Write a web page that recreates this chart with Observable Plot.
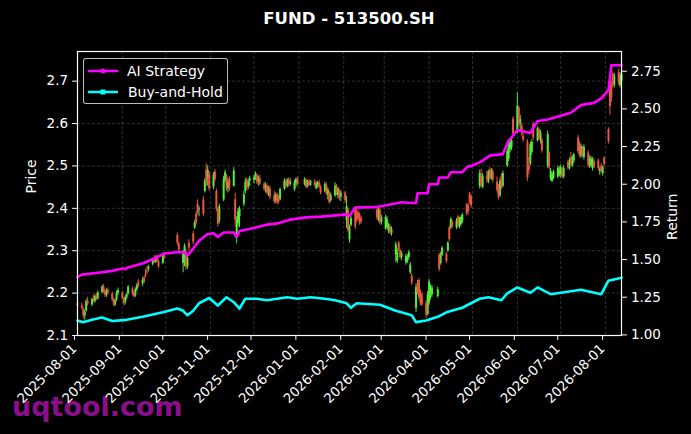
<!DOCTYPE html>
<html><head><meta charset="utf-8">
<script src="https://cdn.jsdelivr.net/npm/d3@7"></script>
<script src="https://cdn.jsdelivr.net/npm/@observablehq/plot@0.6"></script>
<style>
body{margin:0;background:#000;font-family:"DejaVu Sans",sans-serif;}
#wrap{position:relative;width:691px;height:434px;overflow:hidden;background:#000;}
#bg,#chart,#legend{position:absolute;left:0;top:0;}
#chart svg{display:block;}
#legend{left:83px;top:58px;width:145px;height:46px;box-sizing:border-box;border:1px solid rgba(210,210,210,0.9);border-radius:3px;background:rgba(0,0,0,0.85);}
</style></head><body>
<div id="wrap">
<svg id="bg" width="691" height="434">
  <text x="12" y="416" font-family="DejaVu Sans" font-weight="bold" font-size="27" fill="#8b0f8b">uqtool.com</text>
</svg>
<div id="chart"></div>
<svg id="title" width="691" height="40" style="position:absolute;left:0;top:0">
  <text x="349" y="24" text-anchor="middle" font-family="DejaVu Sans" font-weight="bold" font-size="16.5" fill="#fff">FUND - 513500.SH</text>
</svg>
<div id="legend"><svg width="145" height="46">
  <line x1="4" x2="34" y1="12" y2="12" stroke="magenta" stroke-width="2.5"/><circle cx="19" cy="12" r="2.5" fill="magenta"/>
  <text x="43" y="17" font-family="DejaVu Sans" font-size="14" fill="#fff">AI Strategy</text>
  <line x1="4" x2="34" y1="33" y2="33" stroke="cyan" stroke-width="2.5"/><rect x="16.5" y="30.5" width="5" height="5" fill="cyan"/>
  <text x="44" y="38" font-family="DejaVu Sans" font-size="14" fill="#fff">Buy-and-Hold</text>
</svg></div>
</div>
<script>
// Daily candles: [day, open, high, low, close]
const aug2025 = [
[1,2.175,2.182,2.166,2.170],[4,2.170,2.176,2.160,2.165],[5,2.162,2.166,2.140,2.146],[6,2.146,2.160,2.136,2.155],
[7,2.158,2.185,2.155,2.180],[8,2.180,2.190,2.170,2.174],[11,2.172,2.188,2.168,2.185],[12,2.184,2.195,2.178,2.180],
[13,2.180,2.196,2.176,2.192],[14,2.192,2.200,2.182,2.186],[15,2.186,2.205,2.184,2.200],[18,2.202,2.218,2.198,2.214],
[19,2.214,2.220,2.200,2.204],[20,2.204,2.208,2.190,2.196],[21,2.194,2.210,2.190,2.206],[22,2.206,2.212,2.196,2.200],
[25,2.198,2.202,2.180,2.184],[26,2.184,2.188,2.168,2.172],[27,2.172,2.186,2.168,2.182],[28,2.184,2.205,2.180,2.200],
[29,2.200,2.212,2.194,2.206]];
const sep2025 = [
[1,2.200,2.204,2.184,2.188],[2,2.186,2.190,2.170,2.176],[3,2.178,2.194,2.172,2.190],[4,2.190,2.200,2.184,2.196],
[5,2.198,2.218,2.196,2.214],[8,2.210,2.214,2.194,2.198],[9,2.200,2.204,2.188,2.192],[10,2.194,2.212,2.190,2.208],
[11,2.208,2.222,2.204,2.218],[12,2.226,2.232,2.212,2.216],[15,2.222,2.236,2.216,2.230],[16,2.236,2.240,2.222,2.226],
[17,2.244,2.256,2.236,2.240],[18,2.250,2.262,2.244,2.248],[19,2.256,2.266,2.250,2.262],[22,2.268,2.282,2.264,2.278],
[23,2.280,2.288,2.270,2.274],[24,2.272,2.288,2.270,2.284],[25,2.284,2.290,2.272,2.276],[26,2.274,2.278,2.258,2.262],
[29,2.270,2.292,2.268,2.288],[30,2.288,2.296,2.280,2.284]];
const oct2025 = [
[9,2.336,2.342,2.312,2.318],[10,2.316,2.320,2.296,2.302],[13,2.270,2.300,2.248,2.292],[14,2.290,2.316,2.262,2.310],
[15,2.296,2.304,2.254,2.262],[16,2.262,2.286,2.256,2.282],[17,2.318,2.326,2.300,2.306],[20,2.340,2.346,2.314,2.320],
[21,2.354,2.372,2.350,2.366],[22,2.386,2.392,2.360,2.366],[23,2.410,2.420,2.384,2.390],[24,2.396,2.404,2.380,2.398],
[27,2.420,2.428,2.380,2.386],[28,2.440,2.470,2.436,2.464],[29,2.490,2.505,2.452,2.460],[30,2.470,2.500,2.452,2.490],
[31,2.480,2.486,2.440,2.446]];
const nov2025 = [
[3,2.450,2.484,2.444,2.478],[4,2.486,2.492,2.462,2.468],[5,2.440,2.446,2.392,2.398],[6,2.396,2.400,2.356,2.362],
[7,2.370,2.410,2.364,2.404],[10,2.420,2.476,2.416,2.468],[11,2.466,2.490,2.460,2.484],[12,2.476,2.480,2.440,2.446],
[13,2.446,2.470,2.436,2.462],[14,2.468,2.474,2.440,2.448],[17,2.452,2.496,2.450,2.488],[18,2.420,2.436,2.356,2.372],
[19,2.330,2.380,2.316,2.372],[20,2.364,2.400,2.356,2.392],[21,2.380,2.404,2.354,2.398],[24,2.410,2.440,2.404,2.432],
[25,2.440,2.470,2.434,2.462],[26,2.466,2.472,2.440,2.448],[27,2.450,2.468,2.444,2.462],[28,2.464,2.476,2.452,2.470]];
const dec2025 = [
[1,2.466,2.478,2.458,2.472],[2,2.472,2.486,2.466,2.480],[3,2.478,2.482,2.456,2.462],[4,2.462,2.476,2.452,2.470],
[5,2.470,2.478,2.454,2.458],[8,2.456,2.462,2.440,2.446],[9,2.446,2.460,2.436,2.454],[10,2.452,2.458,2.430,2.436],
[11,2.436,2.452,2.428,2.444],[12,2.446,2.452,2.420,2.426],[15,2.430,2.440,2.410,2.416],[16,2.418,2.436,2.412,2.430],
[17,2.432,2.436,2.408,2.414],[18,2.424,2.430,2.410,2.416],[19,2.420,2.448,2.418,2.444],[22,2.446,2.470,2.442,2.464],
[23,2.462,2.468,2.446,2.452],[24,2.452,2.470,2.448,2.466],[25,2.466,2.472,2.450,2.456],[26,2.456,2.470,2.452,2.462],
[29,2.444,2.466,2.440,2.460],[30,2.458,2.472,2.450,2.468],[31,2.468,2.474,2.452,2.456]];
const jan2026 = [
[5,2.456,2.472,2.452,2.468],[6,2.466,2.470,2.446,2.450],[7,2.452,2.466,2.448,2.462],[8,2.462,2.468,2.452,2.456],
[9,2.454,2.466,2.452,2.464],[12,2.462,2.468,2.450,2.454],[13,2.446,2.462,2.444,2.458],[14,2.456,2.464,2.448,2.460],
[15,2.460,2.466,2.446,2.450],[16,2.450,2.454,2.432,2.436],[19,2.440,2.462,2.436,2.456],[20,2.454,2.460,2.430,2.436],
[21,2.432,2.448,2.420,2.444],[22,2.436,2.440,2.410,2.414],[23,2.418,2.436,2.414,2.430],[26,2.430,2.460,2.426,2.452],
[27,2.450,2.456,2.430,2.436],[28,2.430,2.450,2.422,2.446],[29,2.440,2.444,2.418,2.424],[30,2.426,2.442,2.416,2.436]];
const feb2026 = [
[2,2.436,2.440,2.412,2.418],[3,2.372,2.428,2.352,2.404],[4,2.396,2.400,2.342,2.348],[5,2.326,2.360,2.318,2.354],
[6,2.360,2.382,2.356,2.376],[9,2.400,2.404,2.350,2.356],[10,2.392,2.398,2.366,2.372],[11,2.388,2.394,2.370,2.376],
[12,2.384,2.390,2.360,2.366],[13,2.376,2.380,2.362,2.368],[24,2.396,2.404,2.372,2.378],[25,2.372,2.402,2.368,2.396],
[26,2.396,2.400,2.362,2.366],[27,2.366,2.384,2.360,2.378]];
const mar2026 = [
[2,2.352,2.384,2.348,2.378],[3,2.356,2.380,2.350,2.372],[4,2.346,2.364,2.340,2.360],[5,2.356,2.362,2.338,2.344],
[6,2.340,2.356,2.334,2.350],[9,2.290,2.320,2.272,2.314],[10,2.276,2.304,2.270,2.296],[11,2.318,2.322,2.298,2.302],
[12,2.300,2.304,2.280,2.284],[13,2.284,2.298,2.276,2.292],[16,2.272,2.292,2.266,2.286],[17,2.276,2.290,2.270,2.284],
[18,2.284,2.300,2.278,2.296],[19,2.248,2.272,2.244,2.266],[20,2.240,2.246,2.218,2.224],[23,2.164,2.222,2.154,2.214],
[24,2.214,2.230,2.196,2.200],[25,2.230,2.234,2.184,2.190],[26,2.204,2.208,2.170,2.176],[27,2.196,2.200,2.168,2.172],
[30,2.176,2.182,2.140,2.148],[31,2.150,2.204,2.146,2.196]];
const apr2026 = [
[1,2.176,2.232,2.170,2.226],[2,2.190,2.220,2.184,2.214],[3,2.196,2.218,2.190,2.212],[7,2.192,2.214,2.188,2.208],
[8,2.290,2.294,2.250,2.256],[9,2.270,2.296,2.266,2.290],[10,2.290,2.310,2.286,2.306],[13,2.292,2.296,2.270,2.274],
[14,2.300,2.322,2.296,2.318],[15,2.354,2.358,2.322,2.326],[16,2.354,2.378,2.350,2.374],[17,2.366,2.372,2.352,2.358],
[20,2.354,2.376,2.350,2.370],[21,2.380,2.384,2.354,2.360],[22,2.356,2.378,2.352,2.372],[23,2.362,2.382,2.358,2.378],
[24,2.370,2.388,2.364,2.384],[27,2.408,2.412,2.382,2.388],[28,2.406,2.412,2.384,2.392],[29,2.434,2.438,2.410,2.414],
[30,2.428,2.432,2.400,2.406]];
const may2026 = [
[6,2.452,2.490,2.446,2.482],[7,2.476,2.492,2.448,2.456],[8,2.450,2.482,2.446,2.476],[11,2.476,2.488,2.460,2.468],
[12,2.462,2.490,2.458,2.486],[13,2.490,2.496,2.468,2.472],[14,2.470,2.494,2.466,2.488],[15,2.486,2.492,2.460,2.466],
[18,2.462,2.474,2.436,2.442],[19,2.450,2.456,2.420,2.426],[20,2.430,2.470,2.426,2.464],[21,2.476,2.482,2.444,2.450],
[22,2.452,2.488,2.448,2.482],[25,2.500,2.540,2.496,2.534],[26,2.516,2.562,2.510,2.556],[27,2.540,2.562,2.530,2.556],
[28,2.544,2.566,2.536,2.560],[29,2.610,2.616,2.570,2.576]];
const jun2026 = [
[1,2.580,2.672,2.576,2.640],[2,2.636,2.642,2.592,2.598],[3,2.600,2.620,2.584,2.610],[4,2.594,2.600,2.570,2.576],
[5,2.570,2.584,2.556,2.562],[8,2.556,2.562,2.464,2.472],[9,2.500,2.520,2.480,2.490],[10,2.504,2.556,2.500,2.550],
[11,2.532,2.562,2.526,2.556],[12,2.598,2.604,2.560,2.566],[15,2.560,2.592,2.556,2.588],[16,2.584,2.590,2.560,2.566],
[17,2.560,2.584,2.552,2.578],[18,2.560,2.566,2.530,2.536],[22,2.500,2.582,2.494,2.574],[23,2.530,2.534,2.490,2.496],
[24,2.470,2.494,2.464,2.488],[25,2.464,2.484,2.460,2.480],[26,2.472,2.490,2.468,2.486],[29,2.474,2.500,2.470,2.494],
[30,2.480,2.498,2.474,2.490]];
const jul2026 = [
[1,2.478,2.502,2.472,2.496],[2,2.490,2.496,2.470,2.476],[3,2.474,2.500,2.470,2.494],[6,2.508,2.514,2.490,2.496],
[7,2.494,2.518,2.490,2.512],[8,2.520,2.532,2.500,2.506],[9,2.500,2.524,2.496,2.520],[10,2.512,2.530,2.506,2.526],
[13,2.566,2.572,2.528,2.534],[14,2.552,2.558,2.520,2.526],[15,2.524,2.552,2.518,2.546],[16,2.540,2.546,2.520,2.526],
[17,2.520,2.550,2.514,2.544],[20,2.530,2.536,2.496,2.502],[21,2.500,2.524,2.494,2.518],[22,2.500,2.522,2.496,2.516],
[23,2.494,2.520,2.488,2.514],[24,2.510,2.516,2.494,2.498],[27,2.512,2.516,2.490,2.494],[28,2.486,2.496,2.478,2.492],
[29,2.500,2.506,2.484,2.488],[30,2.482,2.500,2.476,2.496],[31,2.518,2.522,2.498,2.504]];
const aug2026 = [
[3,2.586,2.590,2.552,2.558],[4,2.700,2.706,2.620,2.640],[5,2.690,2.700,2.650,2.660],[6,2.716,2.722,2.684,2.692],
[7,2.690,2.718,2.684,2.712],[10,2.720,2.728,2.690,2.698],[11,2.690,2.720,2.684,2.714],[12,2.700,2.724,2.690,2.716]];

// AI Strategy return (right axis)
const aiDates = ["2025-08-01","2025-08-04","2025-08-18","2025-08-25","2025-09-01","2025-09-03","2025-09-05","2025-09-15","2025-09-23","2025-09-30",
"2025-10-10","2025-10-14","2025-10-16","2025-10-20","2025-10-24","2025-10-30","2025-11-03","2025-11-06","2025-11-10","2025-11-17",
"2025-11-19","2025-11-21","2025-12-01","2025-12-09","2025-12-17","2025-12-26","2026-01-06","2026-01-16","2026-01-23","2026-02-03",
"2026-02-05","2026-02-09","2026-02-25","2026-03-05","2026-03-13","2026-03-20","2026-03-23","2026-03-24","2026-03-31","2026-04-01",
"2026-04-07","2026-04-08","2026-04-14","2026-04-16","2026-04-24","2026-04-28","2026-04-30","2026-05-07","2026-05-13","2026-05-22",
"2026-05-26","2026-05-28","2026-06-01","2026-06-10","2026-06-15","2026-06-22","2026-07-01","2026-07-08","2026-07-15","2026-07-24",
"2026-07-29","2026-08-03","2026-08-05","2026-08-12"];
const aiValues = [1.383,1.400,1.416,1.425,1.440,1.436,1.448,1.474,1.507,1.540,
1.550,1.546,1.527,1.573,1.625,1.670,1.675,1.650,1.680,1.680,
1.650,1.690,1.710,1.730,1.740,1.765,1.780,1.785,1.790,1.800,
1.790,1.845,1.850,1.865,1.880,1.875,1.875,1.940,1.940,2.000,
2.000,2.045,2.045,2.080,2.080,2.120,2.120,2.150,2.190,2.200,
2.290,2.310,2.360,2.340,2.420,2.430,2.455,2.475,2.525,2.540,
2.570,2.625,2.790,2.790];

// Buy-and-Hold return (right axis)
const bhDates = ["2025-08-01","2025-08-05","2025-08-11","2025-08-18","2025-08-25","2025-09-04","2025-09-15","2025-09-29","2025-10-09","2025-10-13",
"2025-10-16","2025-10-20","2025-10-24","2025-10-31","2025-11-06","2025-11-12","2025-11-17","2025-11-21","2025-11-25","2025-12-03",
"2025-12-10","2025-12-17","2025-12-24","2025-12-31","2026-01-09","2026-01-19","2026-01-26","2026-02-03","2026-02-06","2026-02-10",
"2026-02-26","2026-03-09","2026-03-20","2026-03-23","2026-03-30","2026-04-07","2026-04-13","2026-04-24","2026-05-06","2026-05-12",
"2026-05-21","2026-05-25","2026-06-01","2026-06-10","2026-06-15","2026-06-24","2026-07-01","2026-07-15","2026-07-29","2026-08-03",
"2026-08-12"];
const bhValues = [1.095,1.084,1.100,1.115,1.092,1.100,1.120,1.150,1.175,1.160,
1.130,1.160,1.210,1.245,1.195,1.250,1.217,1.175,1.240,1.240,
1.230,1.240,1.250,1.240,1.250,1.240,1.230,1.210,1.180,1.210,
1.200,1.160,1.130,1.085,1.095,1.120,1.150,1.180,1.240,1.250,
1.230,1.275,1.315,1.280,1.315,1.270,1.280,1.300,1.270,1.360,
1.380];

const priceTicks = [2.1,2.2,2.3,2.4,2.5,2.6,2.7];
const returnTicks = [1.00,1.25,1.50,1.75,2.00,2.25,2.50,2.75];
const xTickLabels = ["2025-08-01","2025-09-01","2025-10-01","2025-11-01","2025-12-01","2026-01-01","2026-02-01",
"2026-03-01","2026-04-01","2026-05-01","2026-06-01","2026-07-01","2026-08-01"];
const priceDomain = [2.1, 2.77];
const returnDomain = [0.996, 2.881];
const xDomain = ["2025-08-01","2026-08-12"];

const months = [[2025,8,aug2025],[2025,9,sep2025],[2025,10,oct2025],[2025,11,nov2025],[2025,12,dec2025],
[2026,1,jan2026],[2026,2,feb2026],[2026,3,mar2026],[2026,4,apr2026],[2026,5,may2026],[2026,6,jun2026],[2026,7,jul2026],[2026,8,aug2026]];
const candles = months.flatMap(([yr, mo, rows]) => rows.map(([d,o,h,l,c]) =>
  ({date: new Date(Date.UTC(yr, mo-1, d)), open:o, high:h, low:l, close:c})));
const up = candles.filter(d => d.close >= d.open);
const down = candles.filter(d => d.close < d.open);

const k = (priceDomain[1]-priceDomain[0])/(returnDomain[1]-returnDomain[0]);
const toPrice = r => priceDomain[0] + (r - returnDomain[0]) * k;
const fromPrice = p => returnDomain[0] + (p - priceDomain[0]) / k;

const ai = aiDates.map((d,i) => ({date: new Date(d), value: toPrice(aiValues[i])}));
const bh = bhDates.map((d,i) => ({date: new Date(d), value: toPrice(bhValues[i])}));
const xTicks = xTickLabels.map(s => new Date(s));

const upColor = "#52ec3c", downColor = "#e8563f";
const gridStyle = {stroke:"#9a9a9a", strokeOpacity:0.45, strokeDasharray:"3,2", strokeWidth:0.7};

const chart = Plot.plot({
  width: 691, height: 434,
  marginLeft: 77, marginRight: 70, marginTop: 51, marginBottom: 99,
  style: {background: "transparent", color: "white", fontFamily: "DejaVu Sans", fontSize: "14px", overflow: "visible"},
  x: {type: "utc", domain: xDomain.map(s => new Date(s))},
  y: {domain: priceDomain},
  marks: [
    Plot.gridY(priceTicks, gridStyle),
    Plot.gridX(xTicks, gridStyle),
    Plot.ruleX(up, {x:"date", y1:"low", y2:"high", stroke: upColor, strokeWidth: 1}),
    Plot.ruleX(up, {x:"date", y1:"open", y2:"close", stroke: upColor, strokeWidth: 2}),
    Plot.ruleX(down, {x:"date", y1:"low", y2:"high", stroke: downColor, strokeWidth: 1}),
    Plot.ruleX(down, {x:"date", y1:"open", y2:"close", stroke: downColor, strokeWidth: 2}),
    Plot.line(bh, {x:"date", y:"value", stroke:"cyan", strokeWidth:2.6}),
    Plot.line(ai, {x:"date", y:"value", stroke:"magenta", strokeWidth:2.6}),
    Plot.frame({stroke:"white", strokeWidth:1.2}),
    Plot.axisY(priceTicks, {anchor:"left", tickFormat: d3.format(".1f"), tickSize:4.9, tickPadding:4.5, fontSize:13.5, label:null}),
    Plot.axisY(returnTicks.map(toPrice), {anchor:"right", tickFormat: d => fromPrice(d).toFixed(2), tickSize:4.9, tickPadding:4.5, fontSize:13.5, label:null}),
    Plot.axisX(xTicks, {anchor:"bottom", tickFormat: d3.utcFormat("%Y-%m-%d"), tickRotate:-45, textAnchor:"end", tickSize:4.9, tickPadding:6, dx:-3, fontSize:13.3, label:null}),
    Plot.text(["Price"], {frameAnchor:"left", dx:-45.5, rotate:-90, fill:"white", fontSize:14}),
    Plot.text(["Return"], {frameAnchor:"right", dx:51, rotate:-90, fill:"white", fontSize:14})
  ]
});
document.getElementById("chart").appendChild(chart);
</script>
</body></html>
